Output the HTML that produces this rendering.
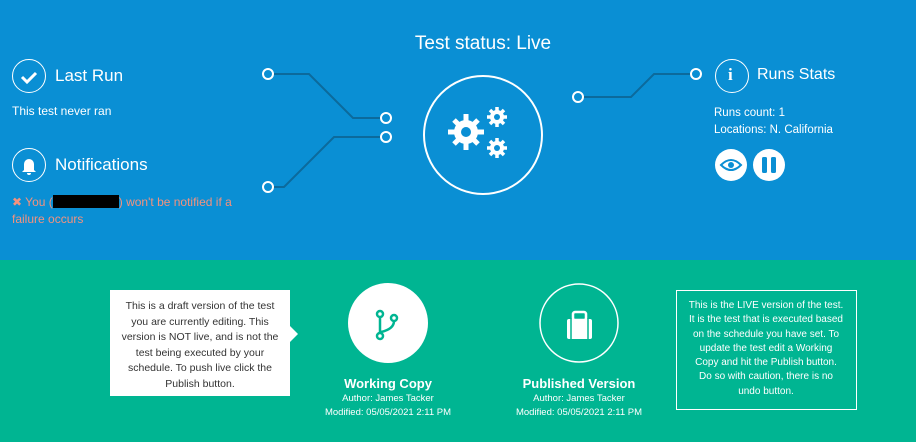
<!DOCTYPE html>
<html><head><meta charset="utf-8"><style>
*{margin:0;padding:0;box-sizing:border-box}
body{width:916px;height:442px;overflow:hidden;font-family:"Liberation Sans",sans-serif;position:relative;background:#00b592}
.top{position:absolute;left:0;top:0;width:916px;height:260px;background:#0a8fd4}
.a{position:absolute;white-space:nowrap;color:#fff}
.circ{position:absolute;border:1.5px solid #fff;border-radius:50%}
.box{position:absolute;text-align:center;font-size:10.5px;line-height:15.5px}
</style></head><body>
<div class="top"></div>
<svg style="position:absolute;left:0;top:0" width="916" height="442">
<g fill="none" stroke="#0c6a9c" stroke-width="2">
<polyline points="273,74 309,74 353,118 381,118"/>
<polyline points="381,137 334,137 284,187 273,187"/>
<polyline points="583,97 631,97 654,74 691,74"/>
</g>
<g fill="#0a8fd4" stroke="#fff" stroke-width="2">
<circle cx="268" cy="74" r="5"/><circle cx="386" cy="118" r="5"/><circle cx="386" cy="137" r="5"/><circle cx="268" cy="187" r="5"/><circle cx="578" cy="97" r="5"/><circle cx="696" cy="74" r="5"/>
</g>
<circle cx="483" cy="135" r="59" fill="none" stroke="#fff" stroke-width="2"/>
<g fill="#fff">
<circle cx="466" cy="132" r="12"/><circle cx="497" cy="117" r="7"/><circle cx="497" cy="148" r="7"/>
</g>
<g stroke="#fff" stroke-width="5" stroke-linecap="butt">
<path d="M466 114v36M448 132h36M454 120l24 24M478 120l-24 24"/>
</g>
<g stroke="#fff" stroke-width="3.5">
<path d="M497 107v20M487 117h20M490 110l14 14M504 110l-14 14M497 138v20M487 148h20M490 141l14 14M504 141l-14 14"/>
</g>
<g fill="#0a8fd4"><circle cx="466" cy="132" r="5"/><circle cx="497" cy="117" r="3"/><circle cx="497" cy="148" r="3"/></g>
<path d="M22 77l5 5 9-9" fill="none" stroke="#fff" stroke-width="3"/>
<path d="M24 170v-6a5 5 0 0 1 10 0v6l2 2h-14z M27 173a2 2 0 0 0 4 0z" fill="#fff"/>
<circle cx="731" cy="165" r="16" fill="#fff"/><circle cx="769" cy="165" r="16" fill="#fff"/>
<path d="M721 165q10-10 20 0q-10 10-20 0z" fill="none" stroke="#0a8fd4" stroke-width="2"/><circle cx="731" cy="165" r="3" fill="#0a8fd4"/>
<rect x="762" y="157" width="5" height="16" rx="1.5" fill="#0a8fd4"/><rect x="771" y="157" width="5" height="16" rx="1.5" fill="#0a8fd4"/>
<rect x="110" y="290" width="180" height="106" fill="#fff"/><path d="M290 326l8 8-8 8z" fill="#fff"/>
<circle cx="388" cy="323" r="40" fill="#fff"/>
<g stroke="#00b592" stroke-width="2.5" fill="none"><circle cx="380" cy="314" r="3"/><circle cx="394" cy="318" r="3"/><circle cx="380" cy="336" r="3"/><path d="M380 317v16M394 321q0 8-13 11"/></g>
<circle cx="579" cy="323" r="39" fill="none" stroke="#fff" stroke-width="1.5"/>
<rect x="567" y="319" width="25" height="20" rx="2" fill="#fff"/><rect x="573" y="312" width="13" height="8" rx="2" fill="none" stroke="#fff" stroke-width="2.5"/>
<path d="M571 319v20M588 319v20" stroke="#00b592" stroke-width="1.5"/>
<rect x="676.5" y="290.5" width="180" height="119" fill="none" stroke="#fff"/>
</svg>
<div class="circ" style="left:12px;top:59px;width:34px;height:34px"></div>
<div class="circ" style="left:12px;top:148px;width:34px;height:34px"></div>
<div class="circ" style="left:715px;top:59px;width:34px;height:34px"></div>
<div class="a" style="left:728px;top:65px;font:bold 17px 'Liberation Serif',serif">i</div>
<div class="a" style="left:0;width:966px;text-align:center;top:33px;font-size:19px">Test status: Live</div>
<div class="a" style="left:55px;top:66px;font-size:17px">Last Run</div>
<div class="a" style="left:12px;top:104px;font-size:12px">This test never ran</div>
<div class="a" style="left:55px;top:155px;font-size:17px">Notifications</div>
<div class="a" style="left:12px;top:194px;font-size:12px;color:#f4927e;line-height:17px;white-space:normal;width:250px">✖ You (<span style="display:inline-block;width:66px;height:13px;background:#000;vertical-align:-2px"></span>) won't be notified if a<br>failure occurs</div>
<div class="a" style="left:757px;top:66px;font-size:16px">Runs Stats</div>
<div class="a" style="left:714px;top:105px;font-size:11.5px;line-height:17px">Runs count: 1<br>Locations: N. California</div>
<div class="box" style="left:110px;top:299px;width:180px;color:#333">This is a draft version of the test<br>you are currently editing. This<br>version is NOT live, and is not the<br>test being executed by your<br>schedule. To push live click the<br>Publish button.</div>
<div class="box" style="left:676px;top:299px;width:180px;color:#fff;font-size:10px;line-height:14.3px">This is the LIVE version of the test.<br>It is the test that is executed based<br>on the schedule you have set. To<br>update the test edit a Working<br>Copy and hit the Publish button.<br>Do so with caution, there is no<br>undo button.</div>
<div class="a" style="left:288px;width:200px;text-align:center;top:376px;font-weight:bold;font-size:13px">Working Copy</div>
<div class="a" style="left:288px;width:200px;text-align:center;top:392px;font-size:9.5px;line-height:14px">Author: James Tacker<br>Modified: 05/05/2021 2:11 PM</div>
<div class="a" style="left:479px;width:200px;text-align:center;top:376px;font-weight:bold;font-size:13px">Published Version</div>
<div class="a" style="left:479px;width:200px;text-align:center;top:392px;font-size:9.5px;line-height:14px">Author: James Tacker<br>Modified: 05/05/2021 2:11 PM</div>
</body></html>
